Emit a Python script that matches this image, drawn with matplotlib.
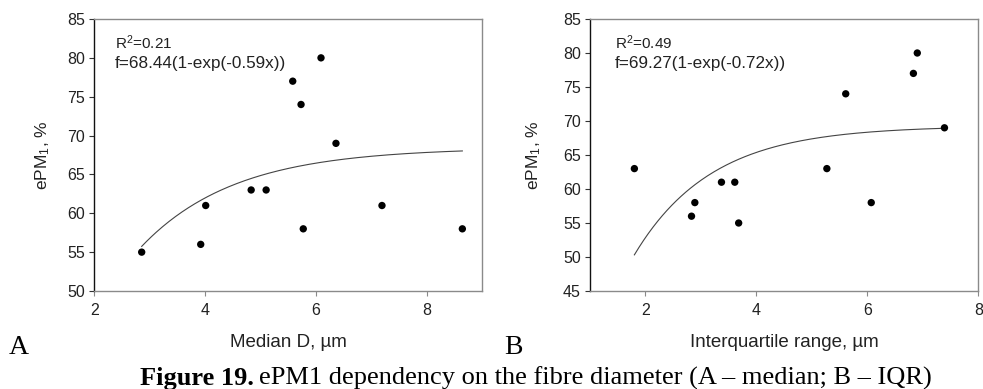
import numpy as np
import matplotlib
matplotlib.use("Agg")
import matplotlib.pyplot as plt

# Data
median_d = [2.855, 3.92, 4.01, 4.83, 5.10, 5.58, 5.73, 5.77, 6.09, 6.36, 7.19, 8.64]
epm_a = [55, 56, 61, 63, 63, 77, 74, 58, 80, 69, 61, 58]
iqr = [1.80, 2.83, 2.89, 3.37, 3.61, 3.68, 5.27, 5.61, 6.07, 6.83, 6.90, 7.39]
epm_b = [63, 56, 58, 61, 61, 55, 63, 74, 58, 77, 80, 69]
fit_a = (68.44, 0.59)
fit_b = (69.27, 0.72)
r2_a = "0.21"
r2_b = "0.49"
xticks_a = [2, 4, 6, 8]
yticks_a = [50, 55, 60, 65, 70, 75, 80, 85]
xticks_b = [2, 4, 6, 8]
yticks_b = [45, 50, 55, 60, 65, 70, 75, 80, 85]

plt.rcParams['font.family'] = ['Liberation Sans', 'DejaVu Sans']
plt.rcParams['mathtext.fontset'] = 'custom'
plt.rcParams['mathtext.rm'] = 'Liberation Sans'
plt.rcParams['mathtext.it'] = 'Liberation Sans:italic'
plt.rcParams['mathtext.bf'] = 'Liberation Sans:bold'

fig = plt.figure(figsize=(9.83, 3.89), dpi=100)
W, H = 983, 389
TXT = '#222222'

def make_ax(left_px, right_px, top_px, bottom_px):
    return fig.add_axes([left_px / W, 1 - bottom_px / H,
                         (right_px - left_px) / W, (bottom_px - top_px) / H])

def style(ax):
    for s in ['top', 'right', 'bottom']:
        ax.spines[s].set_color('#8a8a8a')
        ax.spines[s].set_linewidth(1.0)
    ax.spines['left'].set_color('#111111')
    ax.spines['left'].set_linewidth(1.0)
    ax.tick_params(direction='out', length=3.5, width=0.8, labelsize=11.5,
                   colors='#333333', labelcolor=TXT, pad=3)
    ax.tick_params(axis='x', colors='#8a8a8a', labelcolor=TXT, pad=5)

def panel(ax, x, y, fit, r2, xlim, ylim, xt, yt, xlabel, tx):
    ax.set_xlim(*xlim)
    ax.set_ylim(*ylim)
    ax.set_xticks(xt)
    ax.set_yticks(yt)
    xs = np.linspace(min(x), max(x), 200)
    a, b = fit
    ax.plot(xs, a * (1 - np.exp(-b * xs)), color='#444444', lw=0.8)
    ax.scatter(x, y, s=28, color='black', zorder=3, edgecolors='none')
    style(ax)
    ax.set_ylabel('ePM$_\\mathregular{1}$, %', fontsize=12.5, color=TXT)
    ax.set_xlabel(xlabel, fontsize=13.5, color=TXT, labelpad=12)
    ax.text(tx, 0.913, 'R$^\\mathregular{2}$=' + r2, transform=ax.transAxes,
            fontsize=11, color=TXT, va='center')
    ax.text(tx, 0.838, f'f={a:.2f}(1-exp(-{b:.2f}x))', transform=ax.transAxes,
            fontsize=12.3, color=TXT, va='center')

axA = make_ax(94.3, 482.3, 19, 291)
panel(axA, median_d, epm_a, fit_a, r2_a, (2, 9), (50, 85), xticks_a, yticks_a,
      'Median D, \u00b5m', 0.053)
axA.yaxis.set_label_coords(-0.109, 0.5)

axB = make_ax(590, 978.3, 19, 291)
panel(axB, iqr, epm_b, fit_b, r2_b, (1, 8), (45, 85), xticks_b, yticks_b,
      'Interquartile range, \u00b5m', 0.064)
axB.yaxis.set_label_coords(-0.121, 0.5)

serif = ['Liberation Serif', 'DejaVu Serif']
fig.text(9 / W, 1 - 347 / H, 'A', family=serif, fontsize=20, va='center', ha='left')
fig.text(504 / W, 1 - 347 / H, 'B', family=serif, fontsize=20, va='center', ha='left')
t1 = fig.text(140 / W, 1 - 378 / H, 'Figure 19.', family=serif, fontsize=19,
              fontweight='bold', va='center', ha='left')
fig.canvas.draw()
bb = t1.get_window_extent()
x2 = bb.x1 / fig.dpi / fig.get_figwidth()
fig.text(x2 + 5 / W, 1 - 378 / H,
         'ePM1 dependency on the fibre diameter (A \u2013 median; B \u2013 IQR)',
         family=serif, fontsize=19, va='center', ha='left')

fig.savefig('out.png', dpi=100)
